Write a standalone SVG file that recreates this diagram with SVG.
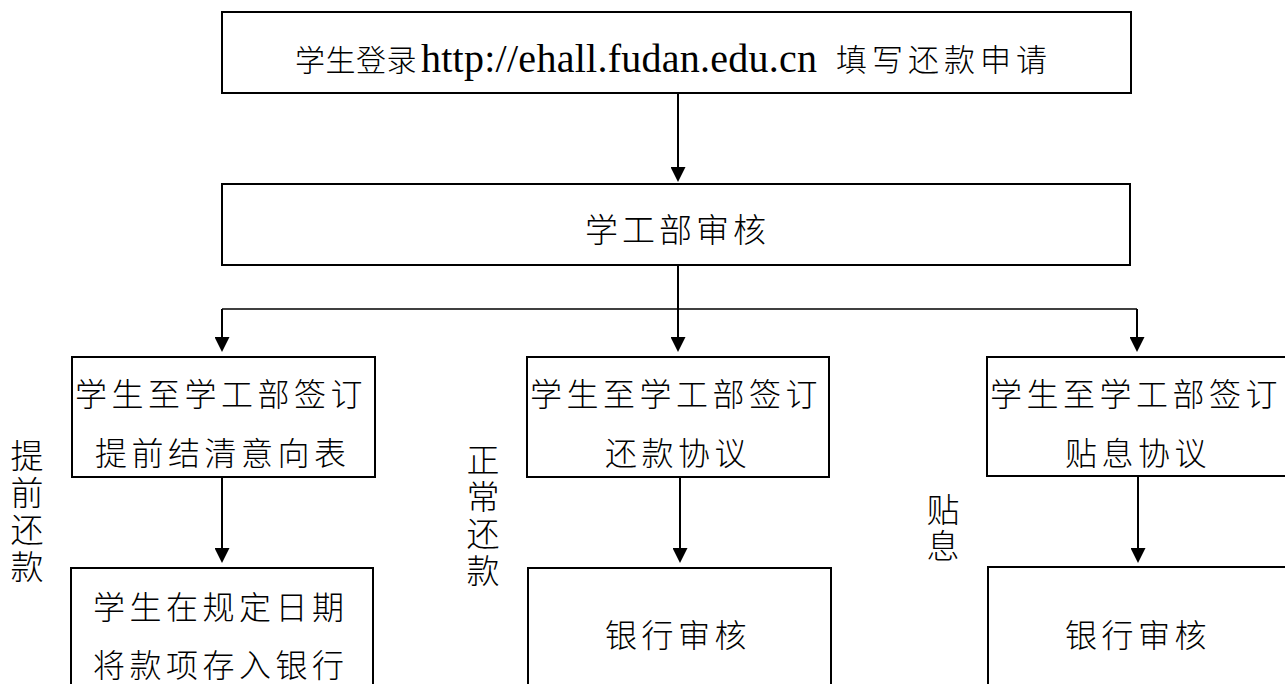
<svg xmlns="http://www.w3.org/2000/svg" width="1285" height="684" viewBox="0 0 1285 684">
<style>
.box{fill:#fff;stroke:#000;stroke-width:2}
.cjk{font-family:"Noto Sans CJK SC","Noto Sans CJK JP",sans-serif;font-weight:300;fill:#000;dominant-baseline:central}
.t32{font-size:32px;letter-spacing:4.5px}
.lat{font-family:"Liberation Serif","Times New Roman",serif;font-size:40px;fill:#000}
.vert{font-family:"Noto Sans CJK SC","Noto Sans CJK JP",sans-serif;font-weight:300;fill:#000;font-size:33px;writing-mode:vertical-rl;letter-spacing:4px}
.ln{stroke:#000;stroke-width:2;fill:none}
.thin{stroke:#000;stroke-width:1.3;fill:none}
</style>
<defs>
<marker id="ah" markerUnits="userSpaceOnUse" markerWidth="15" markerHeight="15" refX="0" refY="7.5" orient="auto">
<path d="M0,0 L15,7.5 L0,15 z" fill="#000"/>
</marker>
</defs>
<rect width="1285" height="684" fill="#fff"/>

<g id="connectors">
<line class="ln" x1="678" y1="93" x2="678" y2="167" marker-end="url(#ah)"/>
<line class="ln" x1="678" y1="265" x2="678" y2="337" marker-end="url(#ah)"/>
<line class="thin" x1="222" y1="309" x2="1137" y2="309"/>
<line class="ln" x1="222" y1="309" x2="222" y2="337" marker-end="url(#ah)"/>
<line class="ln" x1="1137" y1="309" x2="1137" y2="337" marker-end="url(#ah)"/>
<line class="ln" x1="222" y1="477" x2="222" y2="548" marker-end="url(#ah)"/>
<line class="ln" x1="680" y1="477" x2="680" y2="548" marker-end="url(#ah)"/>
<line class="ln" x1="1138" y1="476" x2="1138" y2="548" marker-end="url(#ah)"/>
</g>

<g id="n-login">
<rect class="box" x="222" y="12" width="909" height="81"/>
<text class="cjk" x="295" y="57.5" style="font-size:30px;letter-spacing:0.5px">学生登录</text>
<text class="lat" x="421" y="72" textLength="396" lengthAdjust="spacing">http://ehall.fudan.edu.cn</text>
<text class="cjk" x="836" y="57.5" style="font-size:31px;letter-spacing:5px">填写还款申请</text>
</g>

<g id="n-review">
<rect class="box" x="222" y="184" width="908" height="81"/>
<text class="cjk" x="585" y="228" style="font-size:33px;letter-spacing:4px">学工部审核</text>
</g>

<g id="n-early-sign">
<rect class="box" x="72" y="357" width="303" height="120"/>
<text class="cjk t32" x="75" y="392">学生至学工部签订</text>
<text class="cjk t32" x="95" y="451">提前结清意向表</text>
</g>
<g id="n-early-deposit">
<rect class="box" x="71" y="568" width="302" height="130"/>
<text class="cjk t32" x="93" y="605">学生在规定日期</text>
<text class="cjk t32" x="93" y="663">将款项存入银行</text>
</g>

<g id="n-normal-sign">
<rect class="box" x="527" y="357" width="302" height="120"/>
<text class="cjk t32" x="530" y="392">学生至学工部签订</text>
<text class="cjk t32" x="605" y="451">还款协议</text>
</g>
<g id="n-normal-bank">
<rect class="box" x="528" y="568" width="303" height="130"/>
<text class="cjk t32" x="605" y="633">银行审核</text>
</g>

<g id="n-subsidy-sign">
<rect class="box" x="987" y="357" width="310" height="119"/>
<text class="cjk t32" x="990" y="392">学生至学工部签订</text>
<text class="cjk t32" x="1065" y="451">贴息协议</text>
</g>
<g id="n-subsidy-bank">
<rect class="box" x="988" y="567" width="310" height="130"/>
<text class="cjk t32" x="1065" y="633">银行审核</text>
</g>

<g id="labels">
<text class="vert" x="27" y="439">提前还款</text>
<text class="vert" x="483" y="443">正常还款</text>
<text class="vert" x="943" y="493" style="letter-spacing:3px">贴息</text>
</g>
</svg>
